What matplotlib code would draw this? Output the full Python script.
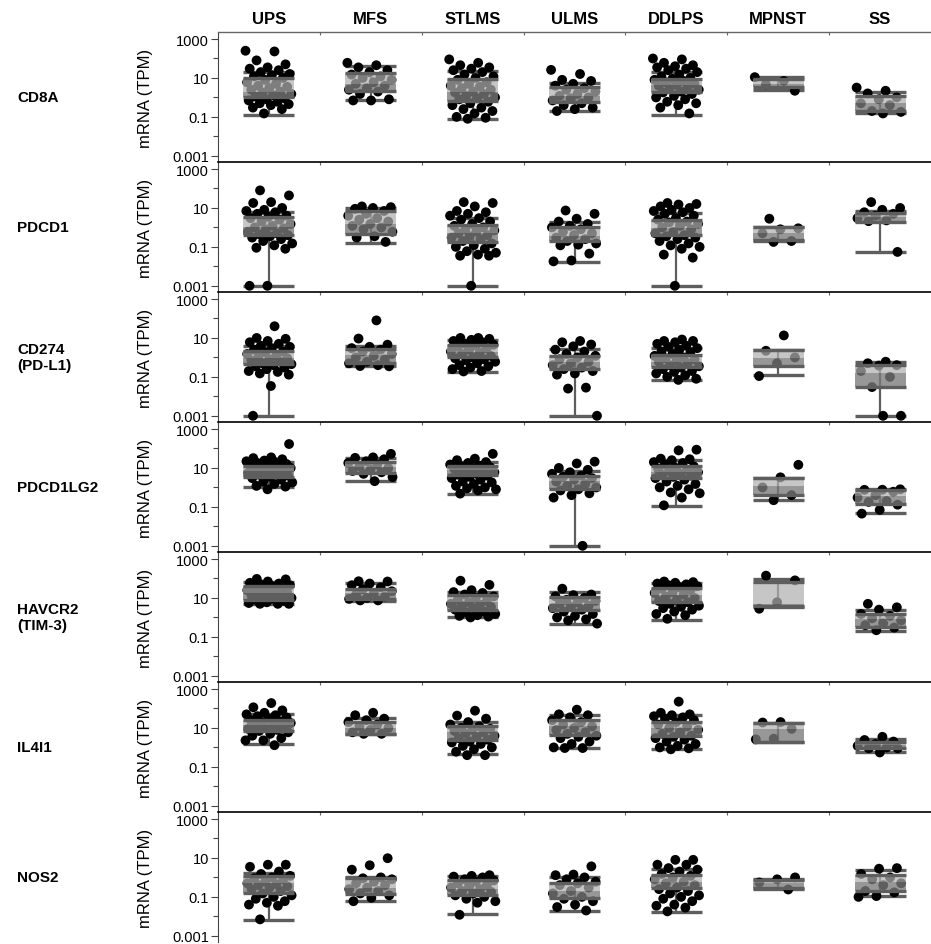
import numpy as np
import matplotlib.pyplot as plt

plt.rcParams['font.family'] = ['Liberation Sans', 'DejaVu Sans']

# sarcoma subtypes (columns) and genes (rows)
subtypes = ['UPS', 'MFS', 'STLMS', 'ULMS', 'DDLPS', 'MPNST', 'SS']
genes = ['CD8A', 'PDCD1', 'CD274\n(PD-L1)', 'PDCD1LG2', 'HAVCR2\n(TIM-3)', 'IL4I1', 'NOS2']

# box summaries per subtype: [whisker low, Q1, median, Q3, whisker high]  (TPM)
box_CD8A = [[0.13, 1, 2, 10, 20], [0.7, 2.1, 5, 18, 40], [0.08, 0.65, 2, 9, 22],
            [0.2, 0.6, 1.2, 3.4, 5.5], [0.13, 1.9, 4.5, 9, 20], [2.4, 3.5, 5, 9, 11],
            [0.16, 0.2, 0.5, 1.2, 1.8]]
box_PDCD1 = [[0.001, 0.43, 1.05, 3.6, 6.1], [0.16, 0.48, 1.5, 6.6, 10], [0.001, 0.17, 0.5, 1.4, 3],
             [0.017, 0.19, 0.35, 1.1, 2], [0.001, 0.4, 0.9, 2.5, 5.6], [0.2, 0.22, 0.5, 1, 1],
             [0.055, 1.9, 3.5, 5.5, 6.6]]
box_CD274 = [[0.001, 0.45, 0.9, 2.1, 3.8], [0.36, 0.5, 1.4, 2.8, 3.9], [0.18, 1.05, 2, 4.3, 7.8],
             [0.001, 0.26, 0.55, 1.25, 2.6], [0.07, 0.32, 0.6, 1.4, 2.9], [0.12, 0.35, 0.9, 2.3, 2.4],
             [0.001, 0.032, 0.15, 0.4, 0.55]]
box_PDCD1LG2 = [[1.1, 3.4, 7, 13, 21], [2.2, 5.4, 11, 21, 33], [0.48, 4.5, 8, 12, 20],
                [0.001, 0.8, 2.2, 3.8, 7.4], [0.11, 3, 6, 12, 26], [0.22, 0.43, 1.2, 3, 3.1],
                [0.05, 0.135, 0.35, 0.76, 0.8]]
box_HAVCR2 = [[5, 8, 18, 40, 65], [6.6, 9, 18, 30, 57], [1.05, 2.3, 6, 14, 21],
              [0.48, 2.3, 5, 11, 21], [0.7, 6.2, 15, 32, 57], [3.5, 3.8, 5, 70, 95],
              [0.2, 0.32, 0.8, 1.5, 2.5]]
box_IL4I1 = [[1.45, 7.4, 14, 26, 53], [4.8, 5, 10, 20, 33], [0.44, 2.5, 6, 13, 21],
             [0.93, 4.5, 12, 26, 44], [0.8, 3.8, 10, 21, 47], [1.8, 1.9, 9, 17, 18],
             [0.58, 0.93, 1.3, 2, 2.8]]
box_NOS2 = [[0.0065, 0.15, 0.5, 1.2, 1.7], [0.06, 0.145, 0.3, 0.9, 1], [0.0125, 0.13, 0.25, 0.7, 1.15],
            [0.019, 0.083, 0.2, 0.52, 1], [0.017, 0.27, 0.6, 1.4, 2.8], [0.24, 0.28, 0.5, 0.7, 0.8],
            [0.11, 0.2, 0.6, 1.4, 2.5]]

# individual tumours (TPM)
pts_CD8A = [
    [250, 230, 80, 50, 35, 30, 25, 20, 16, 14, 12, 10, 8, 6, 5, 4, 3.5, 3, 2.5, 2, 1.8, 1.5, 1.3,
     1.1, 0.9, 0.8, 0.7, 0.6, 0.5, 0.45, 0.4, 0.3, 0.25, 0.15],
    [60, 45, 35, 25, 20, 15, 12, 10, 8, 6, 5, 4, 3, 2.5, 2, 1.5, 0.8, 0.7, 0.7],
    [90, 60, 45, 35, 30, 25, 20, 15, 12, 10, 8, 6, 5, 4, 3.5, 3, 2.5, 2, 1.8, 1.5, 1.2, 1, 0.9,
     0.8, 0.6, 0.5, 0.4, 0.3, 0.25, 0.2, 0.15, 0.1, 0.09, 0.08],
    [26, 16, 8, 7, 5, 4, 3, 2.5, 2, 1.5, 1.2, 1, 0.9, 0.7, 0.5, 0.4, 0.3, 0.25, 0.2],
    [100, 90, 60, 45, 40, 35, 30, 25, 20, 15, 12, 10, 9, 8, 7, 6, 5, 4.5, 4, 3.5, 3, 2.5, 2,
     1.8, 1.5, 1.2, 1, 0.8, 0.6, 0.5, 0.4, 0.3, 0.15],
    [11, 7, 4.7, 2.2],
    [3.2, 2.2, 1.6, 1, 0.8, 0.5, 0.4, 0.2, 0.18, 0.15]]
pts_PDCD1 = [
    [80, 44, 20, 18, 10, 8, 7, 6, 5, 4, 3.5, 3, 2.5, 2, 1.5, 1.2, 1, 0.9, 0.8, 0.6, 0.5, 0.45,
     0.4, 0.35, 0.3, 0.25, 0.2, 0.15, 0.12, 0.09, 0.08, 0.001, 0.001],
    [12, 11, 10, 9, 7, 5, 4, 3, 2.5, 2, 1.5, 1.2, 1, 0.8, 0.6, 0.35, 0.3, 0.18],
    [20, 18, 12, 7, 6, 5, 4, 3, 2.5, 2, 1.5, 1.2, 1, 0.8, 0.7, 0.6, 0.5, 0.4, 0.35, 0.3, 0.25,
     0.2, 0.15, 0.12, 0.1, 0.08, 0.06, 0.05, 0.04, 0.035, 0.035, 0.001],
    [7.4, 5, 2.8, 2, 1.5, 1.2, 1, 0.8, 0.6, 0.5, 0.4, 0.3, 0.25, 0.2, 0.15, 0.13, 0.12, 0.045,
     0.02, 0.018],
    [18, 16, 15, 12, 10, 8, 7, 6, 5, 4, 3, 2.5, 2, 1.8, 1.5, 1.2, 1, 0.8, 0.6, 0.5, 0.4, 0.35,
     0.3, 0.25, 0.2, 0.15, 0.12, 0.1, 0.08, 0.04, 0.028, 0.001],
    [2.8, 0.9, 0.8, 0.5, 0.2, 0.18],
    [20, 10, 8, 6, 5, 4, 3, 2.3, 2.1, 0.055]]
pts_CD274 = [
    [40, 10, 9, 7, 6, 5, 4, 3.5, 3, 2.5, 2, 1.8, 1.5, 1.2, 1, 0.9, 0.8, 0.7, 0.6, 0.5, 0.45,
     0.4, 0.35, 0.3, 0.25, 0.2, 0.18, 0.15, 0.13, 0.034, 0.001],
    [80, 9.3, 4.5, 3.5, 3, 2.5, 2, 1.5, 1.2, 1, 0.8, 0.6, 0.5, 0.4, 0.36, 0.35],
    [10, 10, 9, 8, 7, 6, 5, 4.5, 4, 3.5, 3, 2.5, 2, 1.8, 1.5, 1.2, 1, 0.9, 0.8, 0.7, 0.6, 0.5,
     0.4, 0.35, 0.3, 0.25, 0.2, 0.19],
    [7, 6, 4.6, 3.7, 2.5, 2, 1.5, 1.2, 1, 0.8, 0.6, 0.5, 0.4, 0.3, 0.25, 0.2, 0.15, 0.13,
     0.028, 0.025, 0.001],
    [8.3, 7, 7, 6, 5, 4, 3.5, 3, 2.5, 2, 1.8, 1.5, 1.2, 1, 0.9, 0.8, 0.7, 0.6, 0.5, 0.4, 0.35,
     0.3, 0.25, 0.2, 0.18, 0.15, 0.12, 0.1, 0.08, 0.07],
    [13.5, 2.2, 1, 0.5, 0.11],
    [0.6, 0.5, 0.4, 0.38, 0.2, 0.1, 0.03, 0.001, 0.001]]
pts_PDCD1LG2 = [
    [170, 35, 32, 28, 24, 22, 20, 18, 16, 14, 13, 12, 11, 10, 9, 8, 7, 6, 5.5, 5, 4.5, 4, 3.5,
     3, 2.5, 2, 1.8, 1.5, 1.2, 1.1, 0.8],
    [53, 35, 33, 28, 22, 18, 15, 12, 10, 8, 7, 6, 5, 3.4, 2.1],
    [53, 30, 25, 20, 18, 15, 13, 12, 11, 10, 9, 8, 7, 6, 5, 4.5, 4, 3.5, 3, 2.5, 2, 1.8, 1.5,
     1.2, 1, 0.9, 0.8, 0.7, 0.48],
    [21, 17, 10, 8, 6, 5, 4, 3.5, 3, 2.5, 2, 1.5, 1.2, 1, 0.8, 0.7, 0.5, 0.4, 0.3, 0.001],
    [87, 80, 30, 28, 25, 20, 18, 15, 12, 10, 9, 8, 7, 6, 5, 4.5, 4, 3.5, 3, 2.5, 2, 1.5, 1.2,
     1, 0.8, 0.55, 0.5, 0.3, 0.12],
    [14.5, 3.3, 1, 0.4, 0.22],
    [0.8, 0.76, 0.75, 0.6, 0.4, 0.3, 0.2, 0.18, 0.13, 0.07, 0.045]]
pts_HAVCR2 = [
    [95, 90, 70, 60, 55, 50, 45, 40, 35, 30, 28, 25, 22, 20, 18, 16, 14, 12, 11, 10, 9, 8, 7,
     6, 5.5, 5, 5, 5],
    [72, 70, 55, 45, 35, 28, 22, 18, 15, 12, 10, 9, 7.5, 7.5],
    [77, 47, 25, 20, 18, 15, 12, 10, 8, 7, 6, 5, 4.5, 4, 3.5, 3, 2.5, 2, 1.8, 1.5, 1.3, 1.2,
     1.1, 1],
    [30, 15, 14, 12, 10, 8, 7, 6, 5, 4, 3.5, 3, 2.5, 2, 1.5, 1.2, 1, 0.8, 0.7, 0.48],
    [70, 65, 60, 55, 50, 45, 40, 35, 30, 25, 20, 18, 15, 12, 10, 8, 7, 6, 5, 4, 3.5, 3, 2.5,
     2, 1.5, 1.3, 0.85],
    [140, 80, 6, 2.8],
    [5, 3.3, 2.5, 1.5, 1.2, 0.9, 0.7, 0.5, 0.4, 0.3, 0.22]]
pts_IL4I1 = [
    [190, 115, 80, 60, 50, 45, 40, 35, 30, 25, 22, 20, 18, 15, 13, 12, 10, 9, 8, 7, 6, 5, 4, 3,
     2.3, 2.3, 1.3],
    [60, 45, 30, 25, 20, 15, 12, 10, 8, 6, 5, 5],
    [77, 43, 30, 20, 15, 12, 10, 9, 8, 7, 6, 5, 4, 3.5, 3, 2.5, 2, 1.8, 1.5, 1.2, 1, 0.8, 0.6,
     0.4, 0.4],
    [87, 50, 45, 35, 25, 20, 15, 12, 10, 8, 6, 5, 4, 3.5, 3, 2, 1.5, 1, 0.93, 0.93],
    [225, 60, 50, 45, 40, 35, 30, 25, 20, 15, 12, 10, 8, 6, 5, 4, 3.5, 3, 2.5, 2, 1.5, 1.2, 1,
     0.9, 0.8],
    [20, 19, 9, 2.8, 2.6],
    [3.5, 2.4, 2, 1.5, 1.2, 1, 0.9, 0.9, 0.55]]
pts_NOS2 = [
    [4.5, 4.5, 3.5, 2, 1.5, 1.2, 1, 0.9, 0.8, 0.6, 0.5, 0.45, 0.4, 0.35, 0.3, 0.25, 0.2, 0.15,
     0.12, 0.1, 0.08, 0.06, 0.05, 0.04, 0.035, 0.007],
    [9.7, 4.2, 2.5, 1, 0.9, 0.8, 0.6, 0.5, 0.4, 0.3, 0.25, 0.2, 0.15, 0.12, 0.09, 0.06],
    [1.3, 1.2, 1.1, 1, 0.8, 0.7, 0.6, 0.5, 0.4, 0.35, 0.3, 0.25, 0.2, 0.18, 0.15, 0.12, 0.1,
     0.08, 0.06, 0.05, 0.012],
    [3.7, 1.4, 1.3, 1, 0.8, 0.6, 0.5, 0.4, 0.3, 0.2, 0.15, 0.1, 0.08, 0.06, 0.04, 0.03, 0.02],
    [8, 8, 4.5, 4.5, 3, 2.5, 2, 1.5, 1.2, 1, 0.8, 0.6, 0.5, 0.4, 0.3, 0.25, 0.2, 0.15, 0.12,
     0.1, 0.08, 0.06, 0.04, 0.035, 0.028, 0.018],
    [1, 0.8, 0.55, 0.24],
    [3, 2.8, 1.5, 1, 0.8, 0.5, 0.4, 0.2, 0.17, 0.11, 0.1]]

all_boxes = [box_CD8A, box_PDCD1, box_CD274, box_PDCD1LG2, box_HAVCR2, box_IL4I1, box_NOS2]
all_points = [pts_CD8A, pts_PDCD1, pts_CD274, pts_PDCD1LG2, pts_HAVCR2, pts_IL4I1, pts_NOS2]

W, H = 931, 945
fig = plt.figure(figsize=(W / 100, H / 100), dpi=100)

ax_left = 218 / W
row_top0 = 33
row_h = 130.0
half = 0.25
line_col = '#5e5e5e'
light_col = '#b0b0b0'
dark_col = '#7a7a7a'

for r, gene in enumerate(genes):
    top = row_top0 + r * row_h
    ax = fig.add_axes([ax_left, 1 - (top + row_h) / H, 1 - ax_left, row_h / H])
    ax.set_yscale('log')
    ax.set_ylim(4.8e-4, 2.3e3)
    ax.set_xlim(-0.5, 6.5)

    for i in range(len(subtypes)):
        lo, q1, med, q3, hi = all_boxes[r][i]
        vals = np.array(all_points[r][i], dtype=float)
        n = len(vals)
        # spread the dots across the box width
        jit = ((np.arange(n) * 0.618 + 0.31 * r) % 1 - 0.5) * 0.46
        ax.vlines(i, lo, hi, color=line_col, lw=1.6, zorder=1)
        ax.hlines([lo, hi], i - half, i + half, color=line_col, lw=2.4, zorder=1.5)
        ax.scatter(i + jit, vals, s=50, color='black', edgecolors='none', zorder=2)
        ax.bar(i, q3 - med, bottom=med, width=2 * half, color=light_col, alpha=0.72,
               linewidth=0, zorder=3)
        ax.bar(i, med - q1, bottom=q1, width=2 * half, color=dark_col, alpha=0.78,
               linewidth=0, zorder=3)
        ax.hlines([q1, q3], i - half, i + half, color=line_col, lw=2.4, zorder=4)

    ax.set_yticks([0.001, 0.1, 10, 1000])
    ax.set_yticklabels(['0.001', '0.1', '10', '1000'], fontsize=10.5)
    ax.set_yticks([0.01, 1, 100], minor=True)
    ax.yaxis.set_minor_formatter(plt.NullFormatter())
    ax.tick_params(axis='y', which='major', length=5, width=0.8, color='#444444', pad=1.5)
    ax.tick_params(axis='y', which='minor', length=3.5, width=0.8, color='#444444')
    ax.set_xticks(np.arange(0.5, 6, 1))
    ax.tick_params(axis='x', which='both', bottom=False, top=True, labelbottom=False,
                   direction='in', length=2, color='#666666')
    ax.set_ylabel('mRNA (TPM)', fontsize=12, labelpad=14)

    ax.spines['right'].set_visible(False)
    ax.spines['bottom'].set_visible(False)
    ax.spines['left'].set_color('#444444')
    ax.spines['top'].set_color('#666666' if r == 0 else 'black')
    ax.spines['top'].set_linewidth(1.0 if r == 0 else 1.2)
    ax.patch.set_alpha(0)

    fig.text(17 / W, 1 - (top + row_h / 2) / H, gene, fontsize=11, fontweight='bold',
             ha='left', va='center', linespacing=1.2)

col_w = (W - 218) / 7
for i, name in enumerate(subtypes):
    fig.text((218 + (i + 0.5) * col_w) / W, 1 - 19 / H, name, fontsize=12,
             fontweight='bold', ha='center', va='center')

fig.savefig('out.png', dpi=100)
